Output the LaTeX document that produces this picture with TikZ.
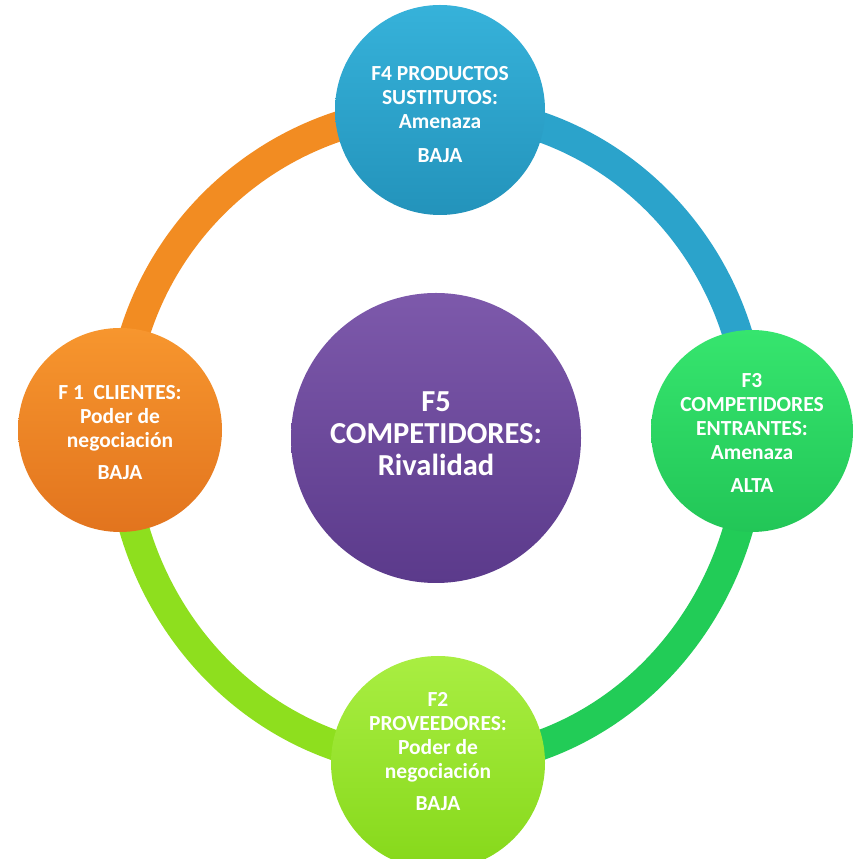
\documentclass[tikz,border=0pt]{standalone}
\usepackage{fontspec}
\setmainfont{Carlito}
\usetikzlibrary{backgrounds}
\definecolor{orA}{HTML}{F7962E}
\definecolor{orB}{HTML}{E2741E}
\definecolor{orRing}{HTML}{F28C22}
\definecolor{blA}{HTML}{36B2DA}
\definecolor{blB}{HTML}{2393BB}
\definecolor{blRing}{HTML}{2BA3CB}
\definecolor{grA}{HTML}{36E56E}
\definecolor{grB}{HTML}{22C657}
\definecolor{grRing}{HTML}{22CC57}
\definecolor{liA}{HTML}{A9EE42}
\definecolor{liB}{HTML}{86D81A}
\definecolor{liRing}{HTML}{8EDF1E}
\definecolor{puA}{HTML}{7D59AB}
\definecolor{puB}{HTML}{5B3A8B}
\begin{document}
\begin{tikzpicture}[x=1pt,y=1pt,
  ball/.style={circle, inner sep=0pt, draw=none, minimum size=#1},
  ringseg/.style={line width=30pt},
  lbl/.style={text=white, align=center, inner sep=0pt,
    font=\fontsize{21.5}{24}\selectfont\bfseries},
  biglbl/.style={text=white, align=center, inner sep=0pt,
    font=\fontsize{30.5}{32}\selectfont\bfseries}]
\useasboundingbox (0,0) rectangle (854,859);

% circles
\node[ball=210pt, top color=blA, bottom color=blB] (F4) at (440,749) {};
\node[ball=204pt, top color=orA, bottom color=orB] (F1) at (120,429) {};
\node[ball=202pt, top color=grA, bottom color=grB] (F3) at (752,428) {};
\node[ball=214pt, top color=liA, bottom color=liB] (F2) at (438,96) {};
\node[ball=290pt, top color=puA, bottom color=puB] (F5) at (436,421) {};

% ring segments
\begin{pgfonlayer}{background}
\fill[white] (0,0) rectangle (854,859);
\draw[ringseg, orRing] (F1.center) to[out=90,in=180] (F4.center);
\draw[ringseg, blRing] (F4.center) to[out=0,in=90] (F3.center);
\draw[ringseg, grRing] (F3.center) to[out=-90,in=0] (F2.center);
\draw[ringseg, liRing] (F2.center) to[out=180,in=-90] (F1.center);
\end{pgfonlayer}

% texts
\node[lbl] (T4) at ([yshift=-5pt]F4.center) {F4 PRODUCTOS\\SUSTITUTOS:\\Amenaza\\[10pt]BAJA};
\node[lbl] (T1) at ([yshift=-3pt]F1.center) {F 1~~CLIENTES:\\Poder de\\negociación\\[8pt]BAJA};
\node[lbl] (T3) at ([yshift=-2pt]F3.center) {F3\\COMPETIDORES\\ENTRANTES:\\Amenaza\\[9pt]ALTA};
\node[lbl] (T2) at ([yshift=11pt]F2.center) {F2\\PROVEEDORES:\\Poder de\\negociación\\[8pt]BAJA};
\node[biglbl] (T5) at ([yshift=4pt]F5.center) {F5\\COMPETIDORES:\\Rivalidad};
\end{tikzpicture}
\end{document}
